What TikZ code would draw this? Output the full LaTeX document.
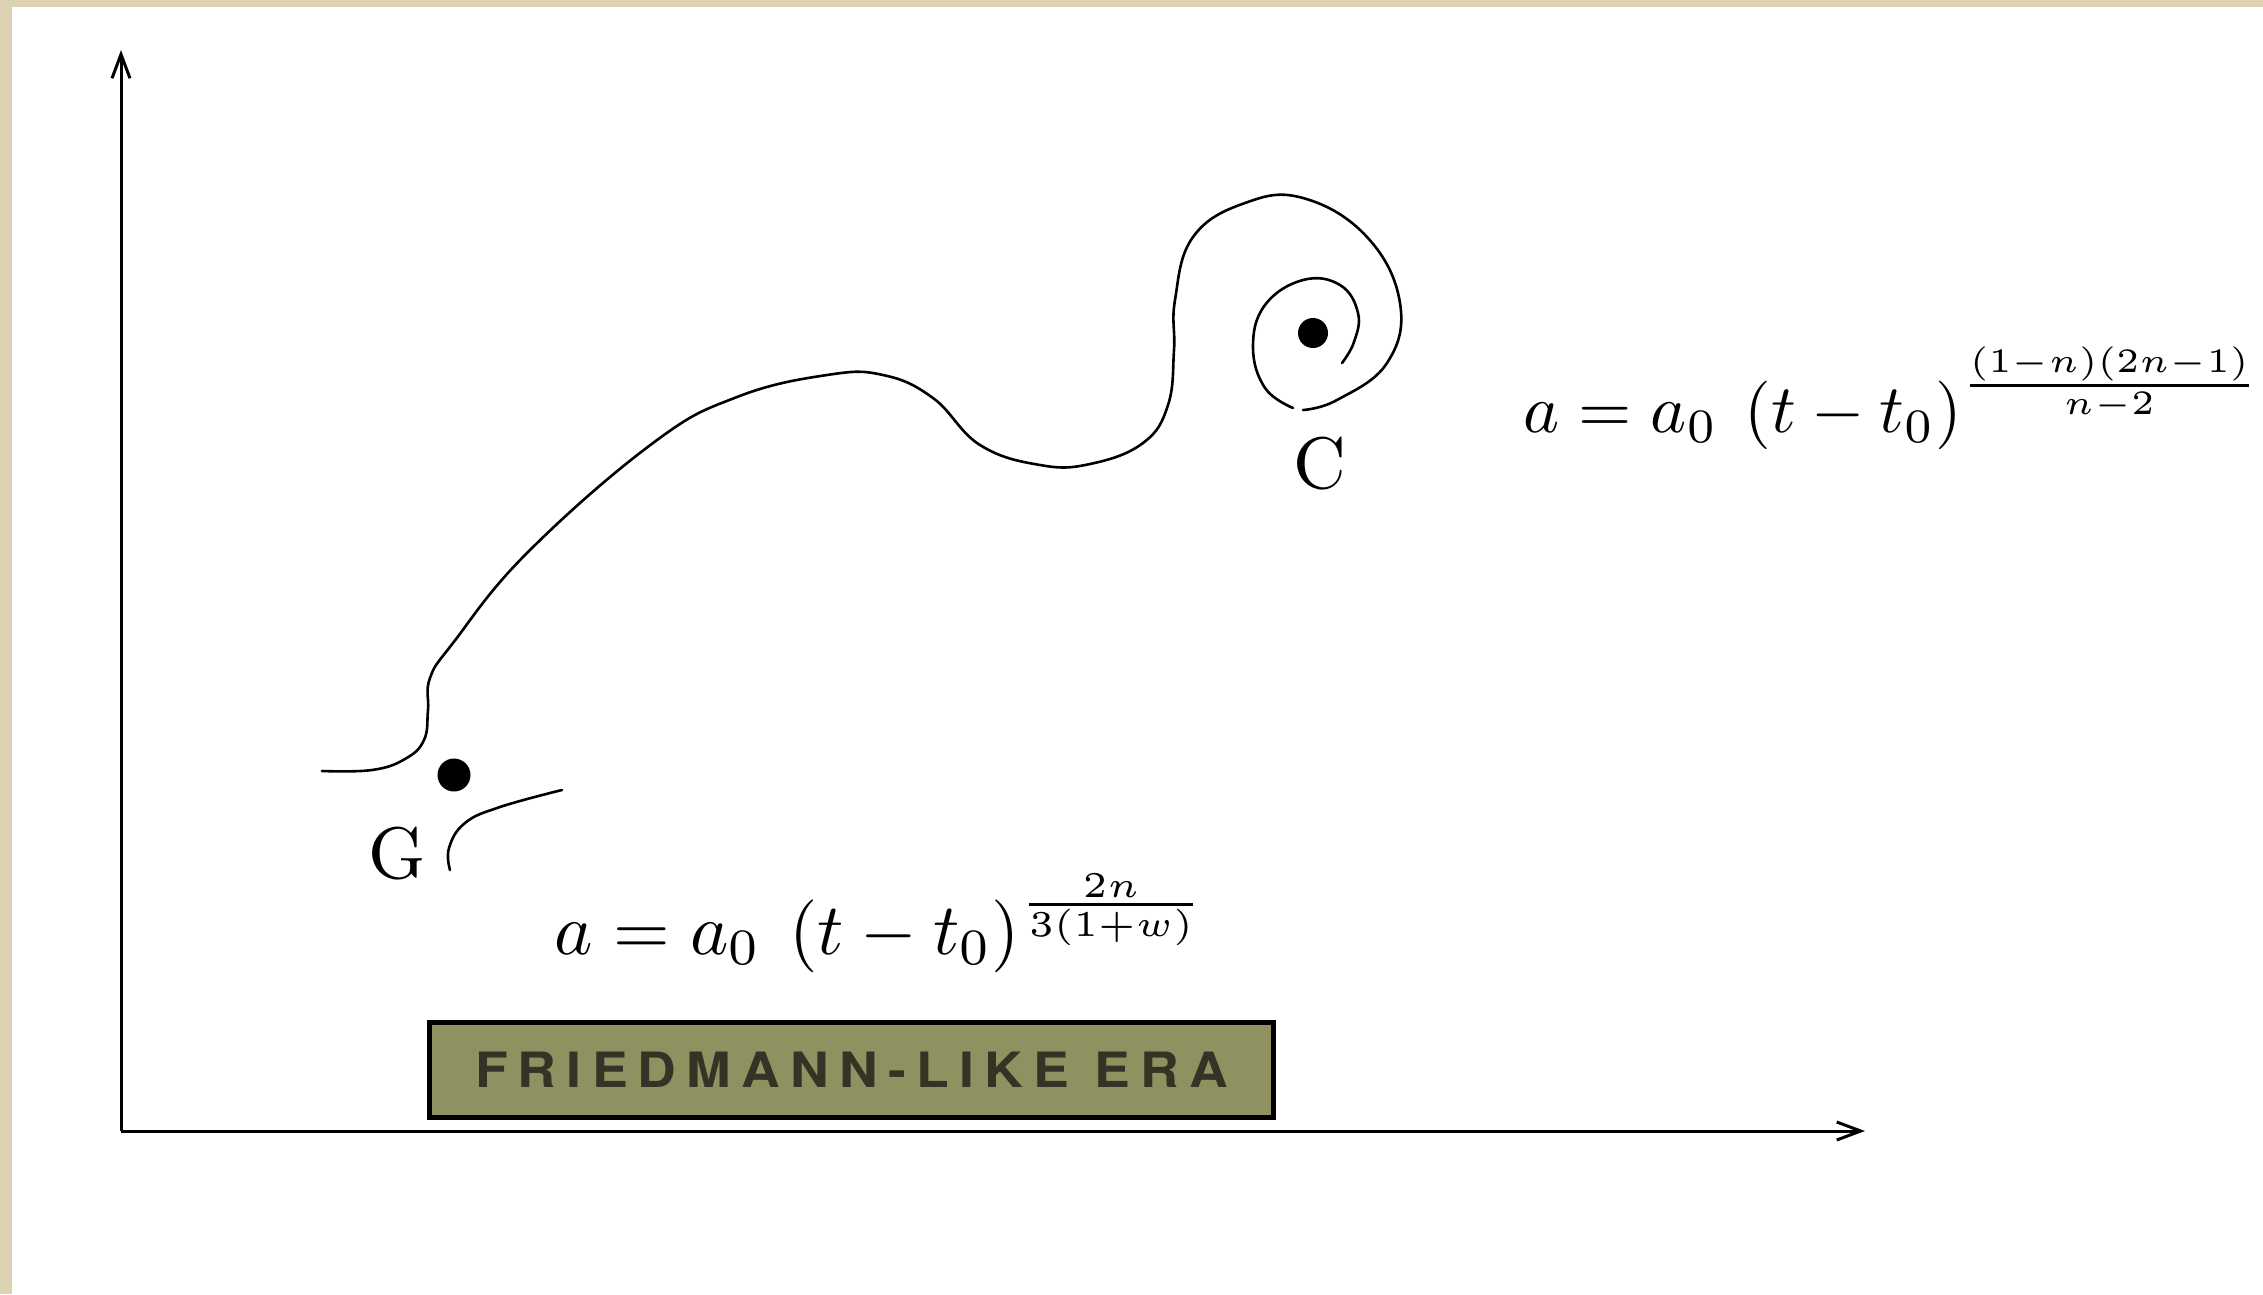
\documentclass[tikz,border=0pt]{standalone}
\usepackage[no-math]{fontspec}
\newfontfamily\boxfont[LetterSpace=21,FakeStretch=1.1]{TeX Gyre Heros}
\usetikzlibrary{arrows.meta}
\definecolor{beige}{RGB}{221,211,178}
\definecolor{olivebox}{RGB}{143,146,96}
\definecolor{boxtext}{RGB}{55,50,38}
\begin{document}
\begin{tikzpicture}[x=1pt,y=-1pt,
  axis/.style={line width=3pt,-{Straight Barb[length=24pt,width=18pt,line width=3pt]}},
  curve/.style={line width=2.6pt,line cap=round,line join=round},
  dot/.style={circle,fill=black,inner sep=0pt},
  lbl/.style={inner sep=0pt,anchor=base,font=\rmfamily\fontsize{10}{12}\selectfont,scale=7.3,transform shape},
  formula/.style={inner sep=0pt,anchor=base west,font=\fontsize{10}{12}\selectfont,transform shape},
  erabox/.style={draw=black,line width=5pt,fill=olivebox,inner sep=0pt,
     minimum width=844pt,minimum height=95pt,
     font=\boxfont\bfseries\fontsize{48.7}{50}\selectfont,text=boxtext}]
\useasboundingbox (0,0) rectangle (2263,1294);
\fill[white] (0,0) rectangle (2263,1294);
\fill[beige] (0,0) rectangle (2263,7);
\fill[beige] (0,0) rectangle (12,1294);

% axes
\coordinate (O) at (121,1131);
\coordinate (Ytop) at (121,50);
\coordinate (Xend) at (1865,1131);
\draw[axis] (O) -- (Ytop);
\draw[axis] (O) -- (Xend);

% main curve
\draw[curve] plot[smooth,tension=0.7] coordinates {
 (322,771) (372,770) (405,759) (424,740) (428,710) (430,678)
 (453,643) (527,553) (653,443) (737,397) (827,375)
 (883,375) (933,398) (980,445) (1040,465) (1090,464)
 (1143,443) (1168,405) (1174,350) (1175,300)
 (1193,237) (1245,203) (1303,198) (1367,237)
 (1400,303) (1387,363) (1337,400) (1303,410)};
% inner spiral
\draw[curve] plot[smooth,tension=0.7] coordinates {
 (1293,408) (1265,388) (1253,347) (1265,305) (1303,280)
 (1340,285) (1358,313) (1354,342) (1342,363)};
% lower branch near G
\draw[curve] plot[smooth,tension=0.7] coordinates {
 (450,870) (449,848) (465,823) (500,807) (562,790)};

% fixed points
\node[dot,minimum size=33pt] (Gdot) at (454,775) {};
\node[dot,minimum size=30pt] (Cdot) at (1313,333) {};
\node[lbl] (G) at (397,878) {G};
\node[lbl] (C) at (1320,488) {C};

% formulas
\node[formula,scale=7.28] (f1) at (553,954) {$a = a_0\:\left(t - t_0\right)^{\frac{2n}{3(1+w)}}$};
\node[formula,scale=6.85] (f2) at (1522,432) {$a = a_0\:\left(t - t_0\right)^{\frac{(1-n)(2n-1)}{n-2}}$};

% era box
\node[erabox] (era) at (851.5,1070) {FRIEDMANN-LIKE ERA};
\end{tikzpicture}
\end{document}
